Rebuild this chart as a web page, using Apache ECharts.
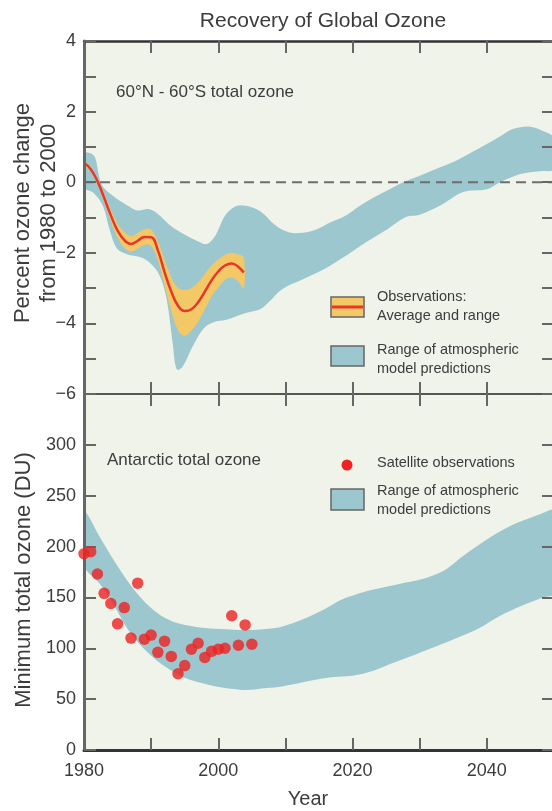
<!DOCTYPE html>
<html>
<head>
<meta charset="utf-8">
<script src="https://cdn.jsdelivr.net/npm/echarts@6/dist/echarts.min.js"></script>
<style>
html,body{margin:0;padding:0;background:#ffffff;}
#chart{width:552px;height:811px;}
</style>
</head>
<body>
<div id="chart"></div>
<script>
// ---------- DATA ----------
// Top panel: 60N-60S total ozone, percent change from 1980
const topModelUpper = [[1980,0.8],[1981,0.82],[1981.7,0.68],[1982.2,0.2],[1982.8,-0.12],[1984.4,-0.4],[1986.4,-0.65],[1988,-0.8],[1989.6,-0.76],[1991,-0.9],[1993,-1.25],[1995.3,-1.52],[1997,-1.68],[1998.3,-1.75],[1999.6,-1.5],[2001,-0.95],[2002.6,-0.68],[2004.2,-0.67],[2006.3,-0.83],[2008.5,-1.22],[2010.5,-1.42],[2012.6,-1.43],[2014.7,-1.33],[2016.8,-1.13],[2019,-0.94],[2021,-0.68],[2023,-0.45],[2025,-0.25],[2027.3,-0.02],[2030,0.18],[2032.5,0.38],[2035,0.57],[2037.5,0.82],[2040,1.08],[2042,1.3],[2043.5,1.48],[2045,1.56],[2046.5,1.57],[2048,1.48],[2050,1.25]];
const topModelLower = [[1980,-0.15],[1981.4,-0.3],[1982.8,-0.67],[1983.9,-1.4],[1984.9,-1.88],[1986.4,-2.04],[1988.3,-2.12],[1989.8,-2.28],[1991.2,-2.62],[1992.3,-3.3],[1993.2,-4.55],[1993.8,-5.3],[1994.6,-5.25],[1996.2,-4.65],[1997.8,-4.15],[1999.3,-3.97],[2001.2,-3.9],[2004.2,-3.7],[2006.2,-3.6],[2007.5,-3.4],[2009.5,-3.03],[2012.6,-2.75],[2015.8,-2.46],[2018.9,-2.1],[2022,-1.7],[2025.2,-1.33],[2028,-0.98],[2030,-0.92],[2033,-0.67],[2036.5,-0.28],[2040,-0.2],[2042,0],[2045,0.23],[2048,0.31],[2050,0.37]];
const obsYears = [1980,1981,1982,1983,1984,1985,1986,1987,1988,1989,1990,1991,1992,1993,1994,1995,1996,1997,1998,1999,2000,2001,2002,2003,2003.8];
const obsAverage = [0.55,0.37,0.03,-0.44,-0.94,-1.37,-1.64,-1.75,-1.66,-1.55,-1.56,-1.93,-2.55,-3.1,-3.5,-3.65,-3.6,-3.4,-3.1,-2.78,-2.53,-2.36,-2.3,-2.4,-2.56];
const obsHigh = [0.6,0.43,0.11,-0.32,-0.78,-1.17,-1.42,-1.53,-1.44,-1.33,-1.34,-1.68,-2.2,-2.7,-3.0,-3.05,-3.0,-2.84,-2.6,-2.36,-2.18,-2.06,-2.0,-2.05,-2.14];
const obsLow = [0.5,0.31,-0.05,-0.56,-1.1,-1.57,-1.86,-1.97,-1.88,-1.77,-1.8,-2.2,-2.92,-3.65,-4.2,-4.35,-4.2,-3.95,-3.6,-3.23,-2.98,-2.76,-2.7,-2.82,-3.01];

// Bottom panel: Antarctic minimum total ozone (DU)
const botModelUpper = [[1980,234],[1982.4,209],[1984.4,187],[1986.4,167],[1988.3,151],[1990.3,138],[1992.3,129],[1994.3,124],[1997.3,120.5],[2000.3,119],[2004.2,118],[2007,119],[2009.3,121],[2012.6,128.5],[2015.8,138.5],[2018.4,148],[2020.5,153],[2022.6,157],[2026.8,163],[2030.4,168],[2032.5,173],[2034,178],[2036.5,191],[2040,207],[2042,215],[2044,222],[2046,227],[2048,232],[2050,235]];
const botModelLower = [[1980,182],[1982.4,163],[1984.4,143],[1986.4,120],[1988.3,104],[1990.3,91],[1992.3,81],[1994.3,73],[1996.3,68],[1999.3,63],[2002.3,60],[2004.2,59],[2007.2,61],[2009.5,62.5],[2013.7,68],[2016.8,71.5],[2020,73],[2023.1,78],[2026.2,86],[2029.4,94],[2032.5,102],[2035.7,110.5],[2038.9,120],[2042,132],[2045.1,141.5],[2048.3,150],[2050,154]];
const satYears = [1980,1981,1982,1983,1984,1985,1986,1987,1988,1989,1990,1991,1992,1993,1994,1995,1996,1997,1998,1999,2000,2001,2002,2003,2004,2005];
const satValues = [193,195,173,154,144,124,140,110,164,109,113,96,107,92,75,83,99,105,91,97,99,100,132,103,123,104];

// Axis ticks / labels
const xTickLabels = [1980,2000,2020,2040];
const topYLabels = [4,2,0,-2,-4,-6];
const botYLabels = [0,50,100,150,200,250,300];

// ---------- STYLE ----------
const FONT = '"Liberation Sans", Arial, Helvetica, sans-serif';
const TXT = '#3c3c3c';
const PLOTBG = '#f0f3ea';
const TEAL = '#9dc7ce';
const YELLOW = '#f3c867';
const RED = '#e8362a';
const DOT = '#ee2222';

function tick() { return {show:true, inside:true, length:12, lineStyle:{color:'#666', width:2}}; }
function xAx(grid, pos, lineColor, lineWidth, labels) {
  return {
    type:'value', gridIndex:grid, position:pos, min:1980, max:2050, interval:10, z:10,
    axisLine:{show:true, onZero:false, lineStyle:{color:lineColor, width:lineWidth}},
    axisTick:tick(), splitLine:{show:false},
    axisLabel: labels ? {show:true, margin:12, fontSize:18, color:TXT, fontFamily:FONT,
      formatter: v => xTickLabels.includes(v) ? String(v) : ''} : {show:false}
  };
}
function yAx(grid, pos, min, max, interval, labels) {
  return {
    type:'value', gridIndex:grid, position:pos, min:min, max:max, interval:interval, z:10,
    axisLine:{show:true, onZero:false, lineStyle:{color:'#666', width:3}},
    axisTick:tick(), splitLine:{show:false},
    axisLabel: labels ? {show:true, margin:8, fontSize:18, color:TXT, fontFamily:FONT,
      formatter: v => labels.includes(v) ? String(v).replace('-', '\u2212') : ''} : {show:false}
  };
}
function band(xi, yi, upper, lower, color, z) {
  return {
    type:'custom', xAxisIndex:xi, yAxisIndex:yi, clip:true, z:z, silent:true,
    data:[[upper[0][0], upper[0][1]]],
    renderItem: function (params, api) {
      const pts = upper.map(p => api.coord(p)).concat(lower.slice().reverse().map(p => api.coord(p)));
      return {type:'polygon', shape:{points:pts, smooth:0.35}, style:{fill:color}};
    }
  };
}
function txt(x, y, s, size, opts) {
  const el = {type:'text', x:x, y:y, z:100, style:{text:s, fontSize:size, fontFamily:FONT, fill:TXT,
    textAlign:(opts && opts.align) || 'left', textVerticalAlign:'middle'}};
  if (opts && opts.rot) el.rotation = opts.rot;
  return el;
}

const chart = echarts.init(document.getElementById('chart'), null, {renderer:'canvas'});
chart.setOption({
  backgroundColor:'#ffffff',
  animation:false,
  grid:[
    {left:84, top:41, width:470, height:353, show:true, backgroundColor:PLOTBG, borderWidth:0, containLabel:false, outerBoundsMode:'none'},
    {left:84, top:394, width:470, height:356, show:true, backgroundColor:PLOTBG, borderWidth:0, containLabel:false, outerBoundsMode:'none'}
  ],
  xAxis:[
    xAx(0,'top','#333',2.5,false),
    xAx(0,'bottom','#555',2,false),
    xAx(1,'top','#555',2,false),
    xAx(1,'bottom','#333',3,true)
  ],
  yAxis:[
    yAx(0,'left',-6,4,1,topYLabels),
    yAx(0,'right',-6,4,1,null),
    yAx(1,'left',0,350,50,botYLabels),
    yAx(1,'right',0,350,50,null)
  ],
  series:[
    band(1,0,topModelUpper,topModelLower,TEAL,2),
    {
      type:'line', xAxisIndex:1, yAxisIndex:0, data:[[1980,0],[2050,0]], showSymbol:false, z:3, silent:true,
      lineStyle:{color:'#6e6e6e', width:2, type:[10,6]}
    },
    band(1,0,obsYears.map((y,i)=>[y,obsHigh[i]]),obsYears.map((y,i)=>[y,obsLow[i]]),YELLOW,4),
    {
      type:'line', xAxisIndex:1, yAxisIndex:0, smooth:0.45, showSymbol:false, z:5, silent:true,
      data:obsYears.map((y,i)=>[y,obsAverage[i]]),
      lineStyle:{color:RED, width:2.5}
    },
    band(3,2,botModelUpper,botModelLower,TEAL,2),
    {
      type:'scatter', xAxisIndex:3, yAxisIndex:2, symbol:'circle', symbolSize:11.5, z:20, clip:false, silent:true,
      data:satYears.map((y,i)=>[y,satValues[i]]),
      itemStyle:{color:DOT}
    }
  ],
  graphic:[
    txt(323,21,'Recovery of Global Ozone',21,{align:'center'}),
    txt(23,213,'Percent ozone change',22,{align:'center', rot:Math.PI/2}),
    txt(49,213,'from 1980 to 2000',22,{align:'center', rot:Math.PI/2}),
    txt(24,580,'Minimum total ozone (DU)',22,{align:'center', rot:Math.PI/2}),
    txt(308,799,'Year',20,{align:'center'}),
    txt(116,92,'60°N - 60°S total ozone',17),
    txt(107,460,'Antarctic total ozone',17),
    {type:'rect', z:100, shape:{x:331, y:297, width:33, height:20}, style:{fill:YELLOW, stroke:'#666', lineWidth:1.5}},
    {type:'line', z:101, shape:{x1:332, y1:307, x2:363, y2:307}, style:{stroke:RED, lineWidth:3}},
    txt(377,297,'Observations:',14.5),
    txt(377,316,'Average and range',14.5),
    {type:'rect', z:100, shape:{x:331, y:346, width:33, height:20}, style:{fill:TEAL, stroke:'#666', lineWidth:1.5}},
    txt(377,350,'Range of atmospheric',14.5),
    txt(377,369,'model predictions',14.5),
    {type:'circle', z:100, shape:{cx:347, cy:465, r:5.5}, style:{fill:DOT}},
    txt(377,463,'Satellite observations',14.5),
    {type:'rect', z:100, shape:{x:331, y:489, width:33, height:21}, style:{fill:TEAL, stroke:'#666', lineWidth:1.5}},
    txt(377,491,'Range of atmospheric',14.5),
    txt(377,510,'model predictions',14.5)
  ]
});
</script>
</body>
</html>
